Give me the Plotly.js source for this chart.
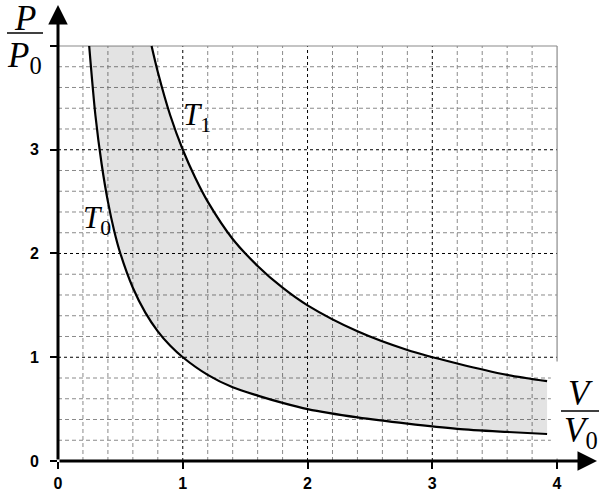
<!DOCTYPE html>
<html><head><meta charset="utf-8">
<script src="https://cdn.plot.ly/plotly-3.0.1.min.js"></script>
<style>html,body{margin:0;padding:0;background:#fff}</style>
</head><body>
<div id="chart" style="width:602px;height:501px"></div>
<script>
// Isotherm T0
const v0 = [0.25,0.3,0.35,0.4,0.45,0.5,0.6,0.7,0.8,0.9,1,1.2,1.4,1.6,1.8,2,2.4,2.8,3.2,3.6,3.92];
const p0 = [4,3.33,2.86,2.5,2.22,2,1.67,1.43,1.25,1.11,1,0.83,0.71,0.63,0.56,0.5,0.42,0.36,0.31,0.28,0.26];
// Isotherm T1
const v1 = [0.75,0.8,0.9,1,1.1,1.2,1.4,1.6,1.8,2,2.4,2.8,3.2,3.6,3.92];
const p1 = [4,3.75,3.33,3,2.73,2.5,2.14,1.88,1.67,1.5,1.25,1.07,0.94,0.83,0.77];
const xTicks = [0,1,2,3,4];
const xTickText = ['0','1','2','3','4'];
const yTicks = [0,1,2,3,4];
const yTickText = ['0','1','2','3',''];

const XMAX = 4.32, YMAX = 4.395, GRID = 4, STEP = 0.2;

const shapes = [];
for (let i = 1; i < Math.round(GRID/STEP); i++) {
  const t = +(i*STEP).toFixed(4);
  const major = i % 5 === 0;
  const line = major ? {color:'#000', width:1, dash:'3px,3px'} : {color:'#8a8a8a', width:1, dash:'4px,3px'};
  shapes.push({type:'line', xref:'x', yref:'y', x0:t, x1:t, y0:0, y1:GRID, line, layer:'below'});
  shapes.push({type:'line', xref:'x', yref:'y', x0:0, x1:GRID, y0:t, y1:t, line, layer:'below'});
}
// frame (top and right)
shapes.push({type:'line', xref:'x', yref:'y', x0:0, x1:GRID, y0:GRID, y1:GRID, line:{color:'#8a8a8a', width:1.2}, layer:'below'});
shapes.push({type:'line', xref:'x', yref:'y', x0:GRID, x1:GRID, y0:0, y1:GRID, line:{color:'#8a8a8a', width:1.2}, layer:'below'});
// white box behind V/V0 label
shapes.push({type:'rect', xref:'x', yref:'y', x0:3.95, x1:4.4, y0:0.025, y1:0.96, fillcolor:'#fff', line:{width:0}, layer:'above'});
// fraction bars
shapes.push({type:'line', xref:'paper', yref:'paper', x0:(7-58)/539, x1:(43-58)/539, y0:(461-33)/456, y1:(461-33)/456, line:{color:'#000', width:1.5}});
shapes.push({type:'line', xref:'paper', yref:'paper', x0:(561-58)/539, x1:(599-58)/539, y0:(461-411)/456, y1:(461-411)/456, line:{color:'#000', width:1.5}});

const serif = 'Liberation Serif, Times New Roman, serif';
const px = x => (x-58)/539, py = y => (461-y)/456;
const lbl = (x, y, text, size) => ({xref:'paper', yref:'paper', x:px(x), y:py(y), xanchor:'center', yanchor:'middle',
  text, showarrow:false, font:{family:serif, size, color:'#000'}});
const annotations = [
  // axes with arrows
  {x:XMAX, y:0, ax:0, ay:0, xref:'x', yref:'y', axref:'x', ayref:'y', showarrow:true, arrowhead:2, arrowsize:1.3, arrowwidth:3, arrowcolor:'#000', text:''},
  {x:0, y:YMAX, ax:0, ay:0, xref:'x', yref:'y', axref:'x', ayref:'y', showarrow:true, arrowhead:2, arrowsize:1.3, arrowwidth:3, arrowcolor:'#000', text:''},
  lbl(25, 19, '<i>P</i>', 35),
  lbl(24, 58, '<i>P</i><sub>0</sub>', 35),
  lbl(580, 393, '<i>V</i>', 35),
  lbl(581, 432, '<i>V</i><sub>0</sub>', 35),
  lbl(197, 117, '<i>T</i><sub>1</sub>', 31),
  lbl(97, 220, '<i>T</i><sub>0</sub>', 31)
];

const traces = [
  {x:v1, y:p1, mode:'lines', line:{color:'#000', width:2.2, shape:'spline', smoothing:0.8}, hoverinfo:'skip'},
  {x:v0, y:p0, mode:'lines', line:{color:'#000', width:2.2, shape:'spline', smoothing:0.8}, fill:'tonexty', fillcolor:'rgba(0,0,0,0.11)', hoverinfo:'skip'}
];

const tickFont = {family:'Liberation Sans, Arial, sans-serif', size:16, color:'#000', weight:700};
const layout = {
  width:602, height:501,
  margin:{l:58, r:5, t:5, b:40},
  paper_bgcolor:'#fff', plot_bgcolor:'#fff',
  showlegend:false,
  xaxis:{range:[0,XMAX], showgrid:false, zeroline:false, showline:false,
    tickmode:'array', tickvals:xTicks, ticktext:xTickText, ticks:'outside', ticklen:7, tickwidth:2, tickcolor:'#000',
    tickfont:tickFont, ticklabelstandoff:1},
  yaxis:{range:[0,YMAX], showgrid:false, zeroline:false, showline:false,
    tickmode:'array', tickvals:yTicks, ticktext:yTickText, ticks:'outside', ticklen:7, tickwidth:2, tickcolor:'#000',
    tickfont:tickFont, ticklabelstandoff:8},
  shapes, annotations
};
Plotly.newPlot('chart', traces, layout, {staticPlot:true, displayModeBar:false});
</script>
</body></html>
